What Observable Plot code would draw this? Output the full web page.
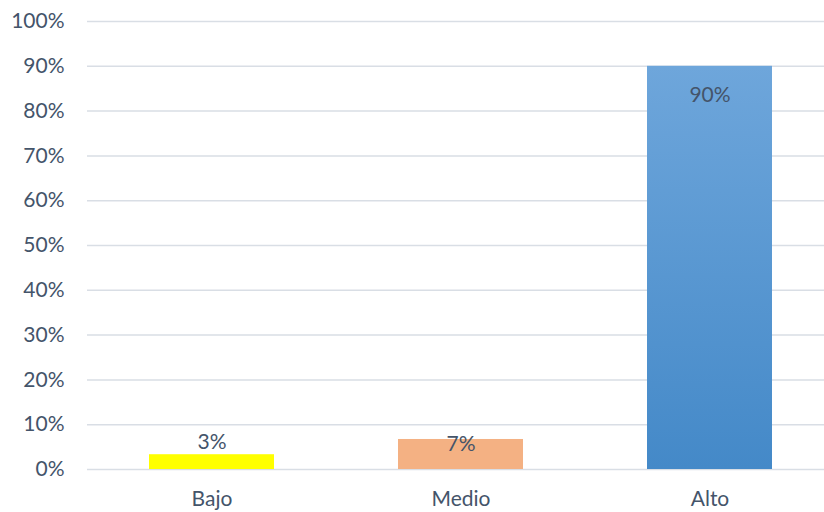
<!DOCTYPE html>
<html>
<head>
<meta charset="utf-8">
<script src="https://cdn.jsdelivr.net/npm/d3@7"></script>
<script src="https://cdn.jsdelivr.net/npm/@observablehq/plot@0.6"></script>
<style>
  html, body { margin: 0; padding: 0; background: #fff; }
  #chart { width: 824px; height: 512px; }
</style>
</head>
<body>
<div id="chart"></div>
<script>
const categories = ["Bajo", "Medio", "Alto"];
const values = [3.3, 6.7, 90];
const yTicks = [0, 10, 20, 30, 40, 50, 60, 70, 80, 90, 100];

const data = categories.map((c, i) => ({ cat: c, value: values[i] }));

const textColor = "#44546A";
const font = "Lato, 'Open Sans', sans-serif";
const fs = 21;

const chart = Plot.plot({
  width: 824,
  height: 512,
  marginLeft: 87,
  marginRight: 0,
  marginTop: 21,
  marginBottom: 43,
  style: { fontFamily: font, fontSize: fs + "px", color: textColor, background: "#fff" },
  x: { domain: categories, range: [87, 834], paddingInner: 0.5, paddingOuter: 0.25, label: null },
  y: { domain: [0, 100], label: null },
  marks: [
    () => {
      const svg = d3.create("svg:defs");
      const g = svg.append("linearGradient").attr("id", "blueGrad")
        .attr("x1", 0).attr("y1", 0).attr("x2", 0).attr("y2", 1);
      g.append("stop").attr("offset", "0%").attr("stop-color", "#6EA6DB");
      g.append("stop").attr("offset", "100%").attr("stop-color", "#4489C8");
      return svg.node();
    },
    Plot.ruleY(yTicks, { y: d => d, stroke: "#D9DEE5", strokeWidth: 1.5 }),
    Plot.barY(data, {
      x: "cat",
      y: "value",
      fill: d => d.cat === "Bajo" ? "#FFFF00" : d.cat === "Medio" ? "#F4B183" : "url(#blueGrad)"
    }),
    Plot.axisY(yTicks, {
      tickSize: 0,
      tickPadding: 23,
      tickFormat: d => d + "%",
      fontSize: fs,
      fill: textColor
    }),
    Plot.axisX({
      tickSize: 0,
      tickPadding: 22,
      fontSize: fs,
      fill: textColor
    }),
    Plot.text(data.filter(d => d.cat === "Bajo"), {
      x: "cat", y: "value", text: d => Math.round(d.value) + "%",
      dy: -12, fill: textColor, fontSize: fs
    }),
    Plot.text(data.filter(d => d.cat === "Medio"), {
      x: "cat", y: "value", text: d => Math.round(d.value) + "%",
      dy: 5, fill: textColor, fontSize: fs
    }),
    Plot.text(data.filter(d => d.cat === "Alto"), {
      x: "cat", y: "value", text: d => Math.round(d.value) + "%",
      dy: 29, fill: textColor, fontSize: fs
    })
  ]
});
document.getElementById("chart").appendChild(chart);
</script>
</body>
</html>
